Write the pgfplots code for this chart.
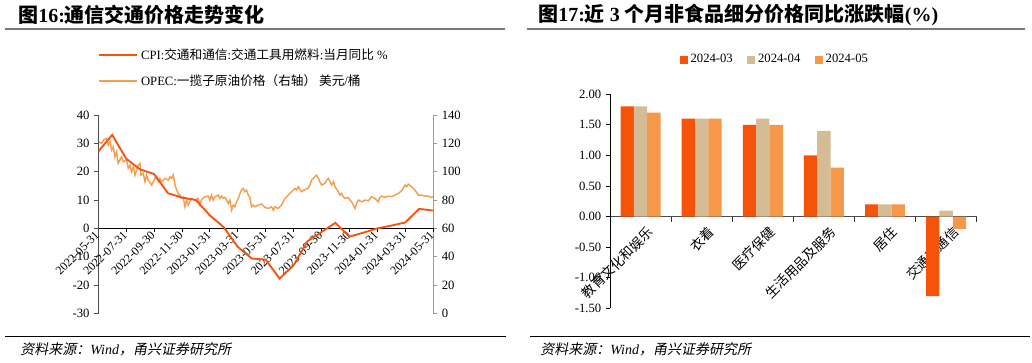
\documentclass[border=0pt]{standalone}
\usepackage{pgfplots}
\pgfplotsset{compat=1.18}
\usepackage{fontspec}
\setmainfont{Liberation Serif}
\newfontfamily\cjk{Noto Sans CJK SC}
\newfontfamily\cjkit{Noto Sans CJK SC}[FakeSlant=0.2]
\definecolor{cpi}{RGB}{244,84,14}
\definecolor{opec}{RGB}{245,158,80}
\definecolor{b1}{RGB}{245,82,10}
\definecolor{b2}{RGB}{214,188,148}
\definecolor{b3}{RGB}{245,152,74}
\definecolor{rule}{RGB}{120,120,120}
\begin{document}
\begin{tikzpicture}
\path[use as bounding box] (0pt,0pt) rectangle (774pt,272.25pt);
% titles and rules
\node[anchor=west,inner sep=0pt] at (13.5pt,261pt) {\fontsize{15}{18}\selectfont{\cjk\bfseries 图}{\bfseries 16:}{\cjk\bfseries 通信交通价格走势变化}};
\draw[rule,line width=1.1pt] (3.75pt,250.5pt) -- (378.75pt,250.5pt);
\node[anchor=west,inner sep=0pt] at (403.5pt,261pt) {\fontsize{15}{18}\selectfont{\cjk\bfseries 图}{\bfseries 17:}{\cjk\bfseries 近}{\bfseries\ 3\ }{\cjk\bfseries 个月非食品细分价格同比涨跌幅}{\bfseries(\%)}};
\draw[rule,line width=1.1pt] (395.25pt,250.5pt) -- (768.75pt,250.5pt);
\draw[black,line width=0.8pt] (3.75pt,19.7pt) -- (379.5pt,19.7pt);
\draw[black,line width=0.8pt] (397.5pt,19.7pt) -- (772.5pt,19.7pt);
\node[anchor=west,inner sep=0pt] at (15pt,10.5pt) {\fontsize{10.5}{12}\selectfont{\cjkit 资料来源：}{\itshape Wind}{\cjkit ，甬兴证券研究所}};
\node[anchor=west,inner sep=0pt] at (405pt,10.5pt) {\fontsize{10.5}{12}\selectfont{\cjkit 资料来源：}{\itshape Wind}{\cjkit ，甬兴证券研究所}};

% ---------------- left chart: right axis (OPEC)
\begin{axis}[at={(73.7pt,37.1pt)},anchor=south west,scale only axis,
  width=251.1pt,height=148.9pt,
  xmin=0,xmax=24,ymin=0,ymax=140,
  axis x line=none, axis y line*=right,
  ytick={0,20,...,140},
  tick align=outside, major tick length=3pt,
  y axis line style={draw=black!40,line width=0.6pt},
  ytick style={draw=black!40,line width=0.6pt},
  /pgf/number format/assume math mode=true,
  yticklabel style={font=\fontsize{9.5}{11}\selectfont,text=black},
]
\addplot[opec,line width=1.1pt] coordinates {
(0,121.2)(0.24,120.0)(0.43,122.8)(0.60,123.5)(0.72,118.8)(0.84,121.2)(0.96,115.3)(1.08,117.6)(1.19,110.6)(1.31,114.1)
(1.43,105.9)(1.55,108.2)(1.67,110.6)(1.79,107.1)(2.03,108.2)(2.15,102.4)(2.27,104.7)(2.39,100.0)(2.51,103.5)(2.63,97.6)
(2.75,101.2)(2.87,104.7)(2.99,105.9)(3.06,97.6)(3.23,98.8)(3.35,92.9)(3.46,97.6)(3.58,94.1)(3.82,90.6)(3.94,92.9)
(4.06,95.3)(4.18,96.5)(4.30,92.9)(4.42,95.3)(4.54,92.9)(4.78,95.3)(5.02,94.1)(5.14,96.5)(5.26,95.3)(5.38,97.6)
(5.50,90.6)(5.62,87.1)(5.73,84.7)(5.85,83.5)(5.97,81.2)(6.09,81.9)(6.21,75.3)(6.33,80.0)(6.45,76.5)(6.69,81.2)
(6.93,80.0)(7.17,81.2)(7.29,76.5)(7.41,80.5)(7.65,82.4)(7.89,82.8)(8.00,80.0)(8.12,83.5)(8.24,80.0)(8.36,82.4)
(8.60,83.5)(8.72,81.2)(8.84,82.8)(8.96,81.2)(9.08,81.9)(9.20,80.0)(9.32,77.6)(9.44,80.0)(9.56,72.9)(9.68,76.5)
(9.80,75.3)(9.92,78.8)(10.04,81.2)(10.16,84.7)(10.27,87.1)(10.39,88.2)(10.51,85.9)(10.63,87.1)(10.75,83.5)(10.87,81.9)
(10.99,75.3)(11.11,76.5)(11.23,75.3)(11.47,76.5)(11.71,77.2)(11.95,74.8)(12.19,74.1)(12.43,75.3)(12.55,72.9)(12.66,75.3)
(12.90,74.1)(13.14,76.5)(13.26,78.8)(13.38,81.2)(13.62,83.5)(13.86,85.9)(14.10,88.2)(14.22,87.1)(14.34,89.4)(14.58,85.9)
(14.82,87.5)(15.05,88.2)(15.17,90.6)(15.29,94.1)(15.53,96.5)(15.65,97.6)(15.77,95.3)(15.89,92.9)(16.01,90.6)(16.25,91.8)
(16.37,94.1)(16.49,95.3)(16.61,92.9)(16.73,90.6)(16.85,92.9)(16.97,89.4)(17.21,85.9)(17.32,83.5)(17.44,84.7)(17.56,82.4)
(17.68,81.2)(17.92,81.9)(18.04,80.0)(18.16,78.8)(18.28,76.5)(18.40,74.1)(18.52,77.6)(18.64,80.0)(18.88,78.8)(19.12,80.0)
(19.36,79.5)(19.60,82.4)(19.83,81.2)(20.07,78.8)(20.19,81.9)(20.31,82.8)(20.55,81.9)(20.79,82.8)(21.03,82.4)(21.27,83.5)
(21.51,84.7)(21.75,86.6)(21.99,90.6)(22.11,89.4)(22.22,91.3)(22.46,89.4)(22.58,88.2)(22.70,87.1)(22.94,83.5)(23.18,83.5)
(23.42,82.8)(23.66,82.8)(23.85,81.9)(24,82.4)};
\end{axis}

% ---------------- left chart: left axis (CPI)
\begin{axis}[at={(73.7pt,37.1pt)},anchor=south west,scale only axis,
  width=251.1pt,height=148.9pt,
  xmin=0,xmax=24,ymin=-30,ymax=40,
  axis x line*=middle, axis y line*=left,
  hide obscured x ticks=false, hide obscured y ticks=false,
  ytick={-30,-20,...,40},
  xtick={0,2,...,24},
  xticklabels={2022-05-31,2022-07-31,2022-09-30,2022-11-30,2023-01-31,2023-03-31,2023-05-31,2023-07-31,2023-09-30,2023-11-30,2024-01-31,2024-03-31,2024-05-31},
  tick align=outside, major tick length=3pt,
  x axis line style={draw=black,line width=0.7pt},
  y axis line style={draw=black!70,line width=0.6pt},
  xtick style={draw=black,line width=0.6pt},
  ytick style={draw=black!70,line width=0.6pt},
  /pgf/number format/assume math mode=true,
  yticklabel style={font=\fontsize{9.5}{11}\selectfont},
  xticklabel style={font=\fontsize{9}{11}\selectfont,rotate=45,anchor=east,inner sep=1pt},
  legend style={at={(0.0,1.35)},anchor=north west,draw=none,fill=none,inner sep=0pt,
    font=\fontsize{9.5}{11}\selectfont,row sep=6pt},
  legend cell align=left,
  legend image code/.code={\draw[#1] (0pt,0pt) -- (28.5pt,0pt);},
]
\addplot[cpi,line width=1.4pt] coordinates {
(0,27.1)(1,33.0)(2,24.6)(3,20.8)(4,19.2)(5,12.4)(6,10.9)(7,10.0)(8,4.6)(9,0.4)(10,-6.5)(11,-10.6)(12,-11.0)
(13,-17.7)(14,-13.0)(15,-4.5)(16,-1.3)(17,2.0)(18,-2.9)(19,-1.5)(20,0.0)(21,1.0)(22,2.1)(23,6.9)(24,6.3)};
\addlegendentry{CPI:{\cjk 交通和通信}:{\cjk 交通工具用燃料}:{\cjk 当月同比} \%}
\addlegendimage{opec,line width=1.1pt}
\addlegendentry{OPEC:{\cjk 一揽子原油价格（右轴） 美元}/{\cjk 桶}}
\end{axis}

% ---------------- right chart: bars
\begin{axis}[at={(457.5pt,40.9pt)},anchor=south west,scale only axis,
  width=275pt,height=160.65pt,
  xmin=-0.5,xmax=5.5,ymin=-1.5,ymax=2,
  axis x line*=middle, axis y line*=left,
  hide obscured x ticks=false, hide obscured y ticks=false,
  ytick={-1.5,-1,...,2},
  yticklabel={\pgfmathprintnumber[fixed,fixed zerofill,precision=2]{\tick}},
  xtick={0,...,5},
  xticklabels={教育文化和娱乐,衣着,医疗保健,生活用品及服务,居住,交通和通信},
  minor xtick={-0.5,0.5,...,5.5},
  tick align=outside, major tick length=3pt, minor tick length=4pt,
  xtick style={draw=none},
  minor x tick style={draw=black!80,line width=0.6pt},
  x axis line style={draw=black!70,line width=0.8pt},
  y axis line style={draw=black,line width=0.6pt},
  ytick style={draw=black,line width=0.6pt},
  /pgf/number format/assume math mode=true,
  yticklabel style={font=\fontsize{9.5}{11}\selectfont},
  xticklabel style={font=\cjk\fontsize{10}{12}\selectfont,rotate=45,anchor=east,inner sep=1pt,xshift=1.5pt,yshift=-10pt},
  legend style={at={(0.19,1.20)},anchor=north west,draw=none,fill=none,inner sep=0pt,
    font=\fontsize{9.5}{11}\selectfont,/tikz/every even column/.append style={column sep=9pt}},
  legend columns=3,
]
\addplot[ybar,fill=b1,draw=none,bar width=0.218,bar shift=-0.218,
  legend image code/.code={\fill[b1] (0pt,-3pt) rectangle (6pt,3pt);}]
  coordinates {(0,1.8)(1,1.6)(2,1.5)(3,1.0)(4,0.2)(5,-1.3)};
\addlegendentry{2024-03}
\addplot[ybar,fill=b2,draw=none,bar width=0.218,bar shift=0,
  legend image code/.code={\fill[b2] (0pt,-3pt) rectangle (6pt,3pt);}]
  coordinates {(0,1.8)(1,1.6)(2,1.6)(3,1.4)(4,0.2)(5,0.1)};
\addlegendentry{2024-04}
\addplot[ybar,fill=b3,draw=none,bar width=0.218,bar shift=0.218,
  legend image code/.code={\fill[b3] (0pt,-3pt) rectangle (6pt,3pt);}]
  coordinates {(0,1.7)(1,1.6)(2,1.5)(3,0.8)(4,0.2)(5,-0.2)};
\addlegendentry{2024-05}
\end{axis}
\end{tikzpicture}
\end{document}
